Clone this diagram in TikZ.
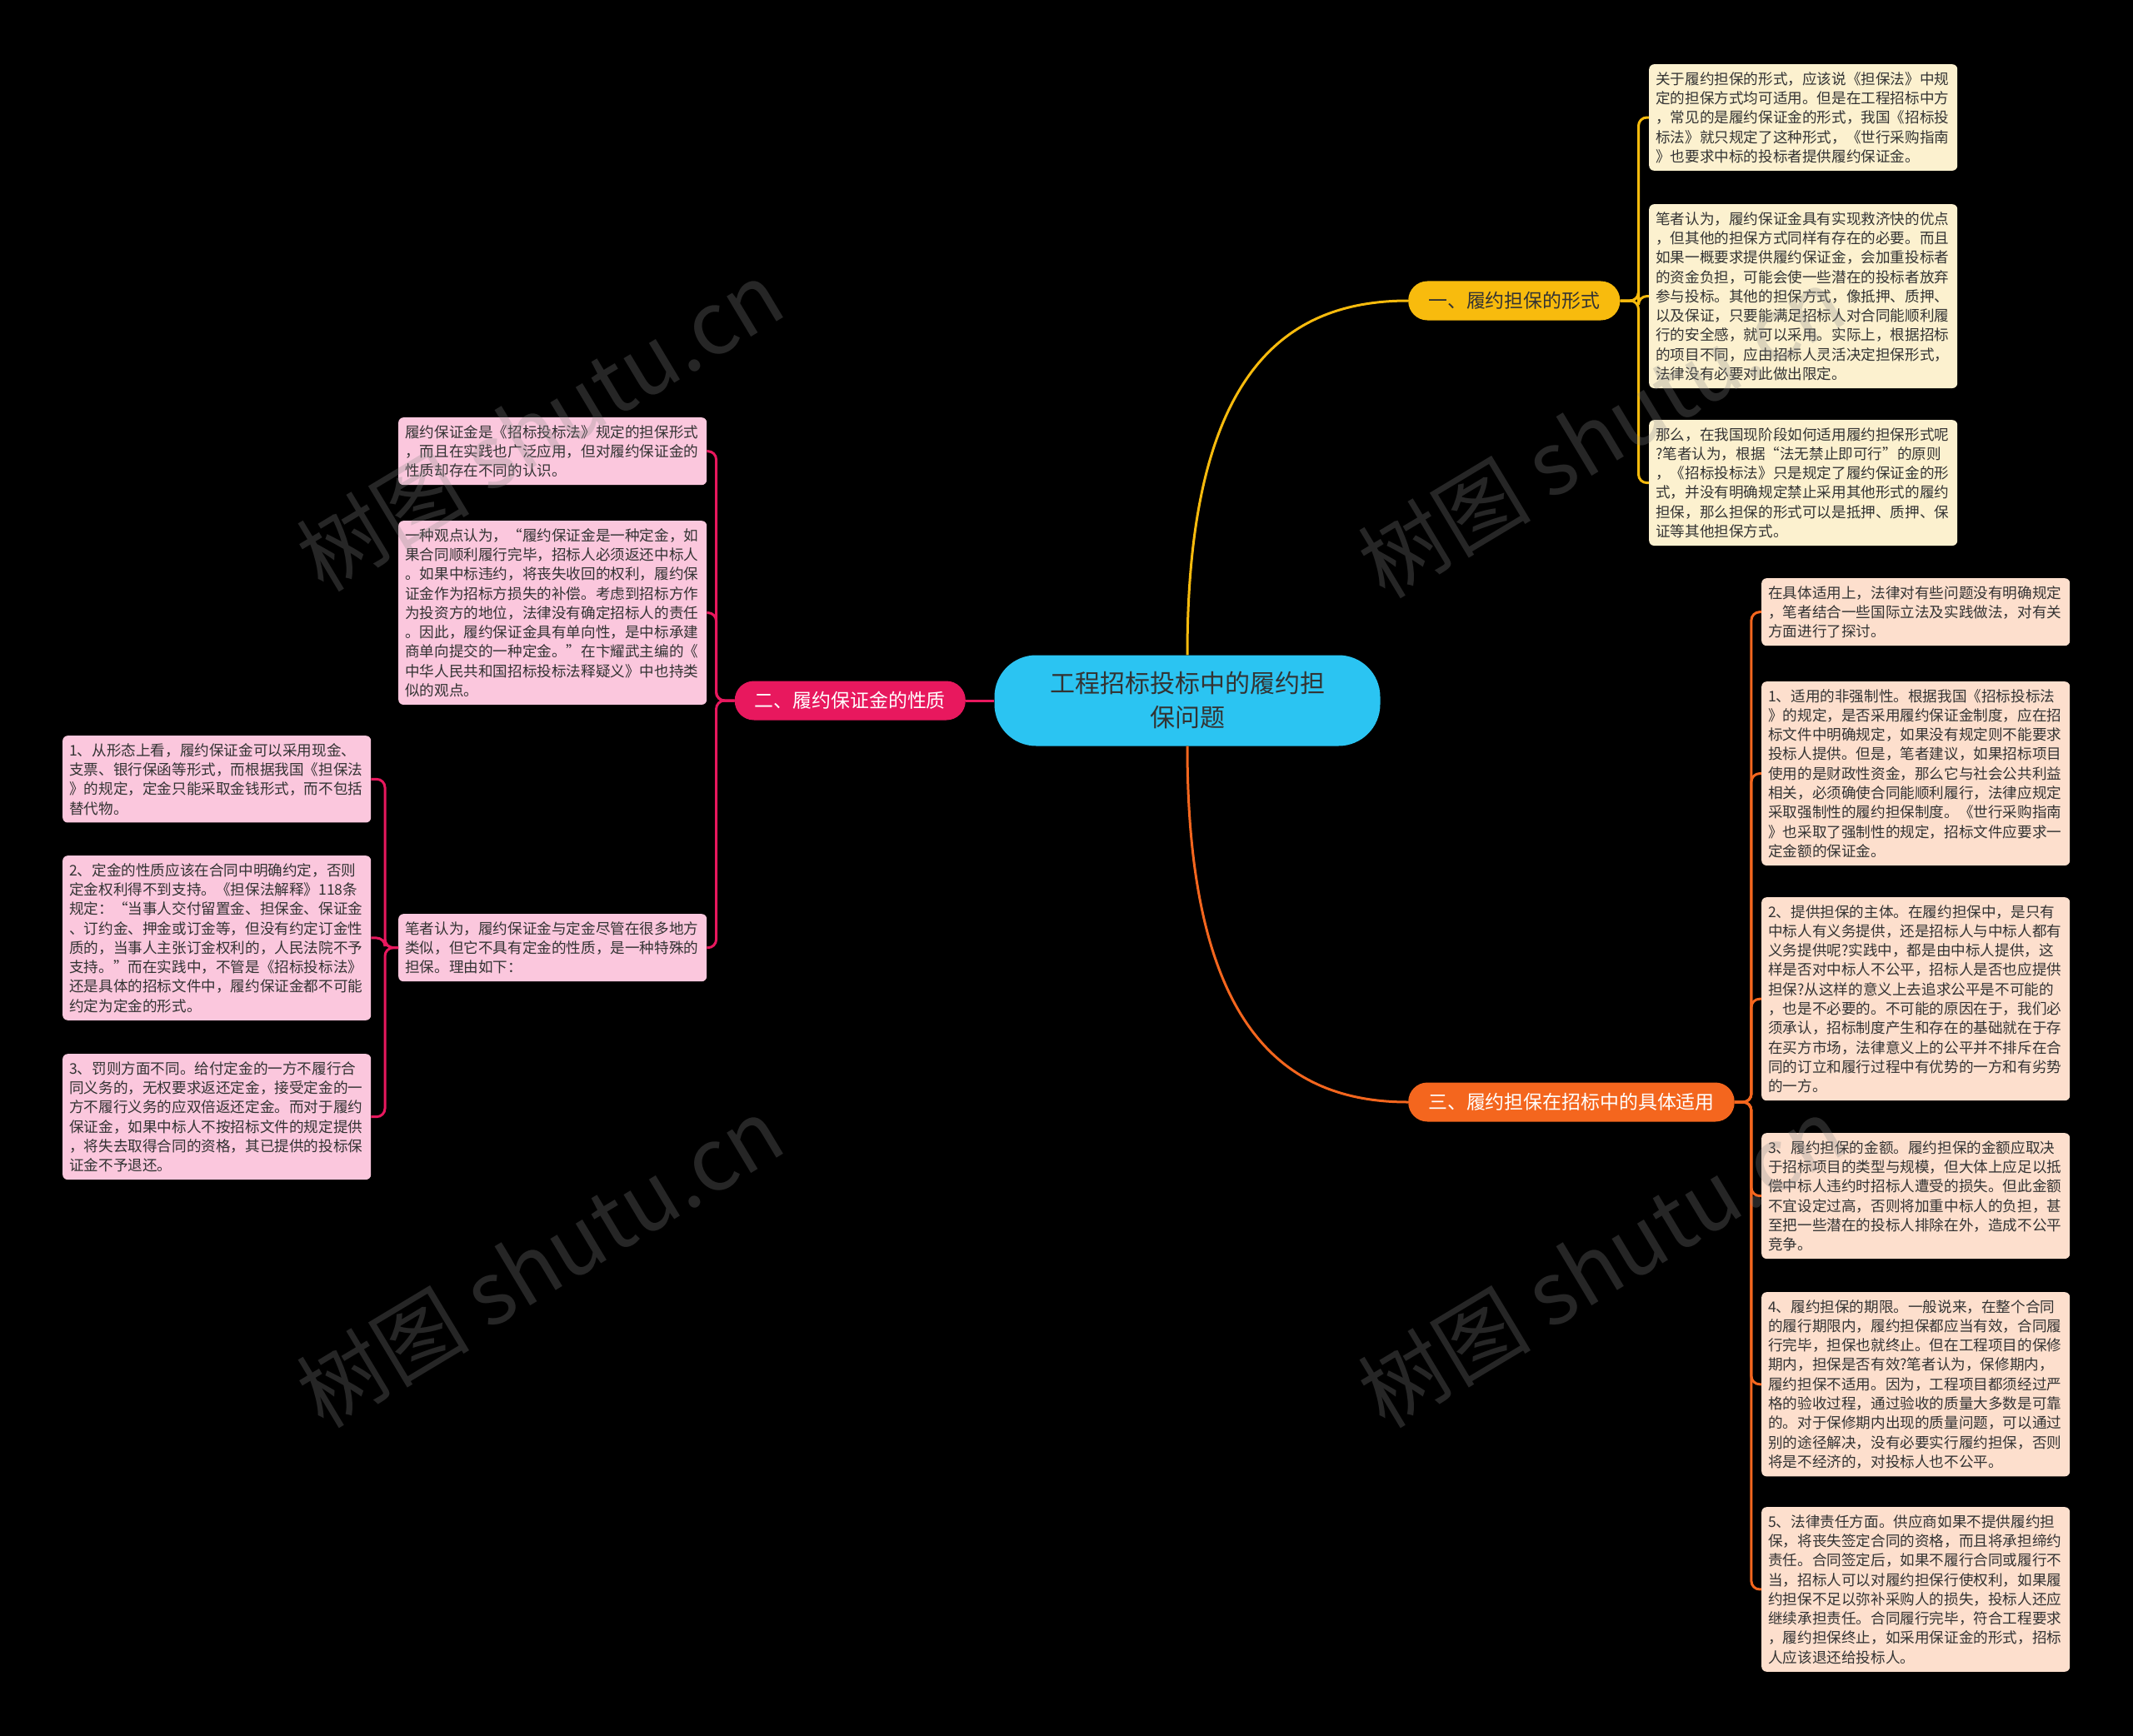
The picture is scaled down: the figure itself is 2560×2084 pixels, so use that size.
\documentclass[tikz,border=0pt]{standalone}
\usepackage{fontspec}
\setmainfont{Noto Sans CJK SC}
\usepackage{xcolor}
\definecolor{hubc}{HTML}{2BC4F2}
\definecolor{ylw}{HTML}{F8BB0D}
\definecolor{mag}{HTML}{E8185E}
\definecolor{org}{HTML}{F4661E}
\definecolor{ylwbox}{HTML}{FCF1CF}
\definecolor{magbox}{HTML}{FBC7DD}
\definecolor{orgbox}{HTML}{FDDFCD}
\definecolor{ink}{HTML}{333333}
\definecolor{wm}{HTML}{8A8A8A}
\tikzset{
  hub/.style={fill=hubc, rounded corners=50pt, minimum width=463pt, minimum height=109pt,
    align=center, text=ink, font=\fontsize{30}{41}\selectfont},
  topic/.style={rounded corners=23pt, minimum height=47pt, inner xsep=24pt,
    font=\fontsize{22.9}{28}\selectfont},
  leaf/.style={rounded corners=6pt, text width=354pt, align=left, inner xsep=8pt, inner ysep=9pt,
    anchor=north west, text=ink, font=\fontsize{17.6}{23.3}\selectfont},
  ylwleaf/.style={leaf, fill=ylwbox},
  magleaf/.style={leaf, fill=magbox},
  orgleaf/.style={leaf, fill=orgbox},
  wire/.style={line width=3pt, rounded corners=10pt},
  trunk/.style={line width=3pt},
  wmark/.style={text=wm, opacity=0.28, rotate=31, font=\fontsize{104}{106}\selectfont},
}
\begin{document}
\begin{tikzpicture}[x=1pt,y=-1pt]
  \fill[black] (0,0) rectangle (2560,2084);
  % centre and main topics
  \node[hub] (hub) at (1425,841) {工程招标投标中的履约担\\保问题};
  \node[topic, fill=ylw, text=ink, anchor=west] (t1) at (1690,361) {一、履约担保的形式};
  \node[topic, fill=mag, text=white, anchor=east] (t2) at (1159,841) {二、履约保证金的性质};
  \node[topic, fill=org, text=white, anchor=west] (t3) at (1690,1323) {三、履约担保在招标中的具体适用};
  % topic 1
  \node[ylwleaf] (y1) at (1979,77) {关于履约担保的形式，应该说《担保法》中规\\定的担保方式均可适用。但是在工程招标中方\\，常见的是履约保证金的形式，我国《招标投\\标法》就只规定了这种形式，《世行采购指南\\》也要求中标的投标者提供履约保证金。};
  \node[ylwleaf] (y2) at (1979,245) {笔者认为，履约保证金具有实现救济快的优点\\，但其他的担保方式同样有存在的必要。而且\\如果一概要求提供履约保证金，会加重投标者\\的资金负担，可能会使一些潜在的投标者放弃\\参与投标。其他的担保方式，像抵押、质押、\\以及保证，只要能满足招标人对合同能顺利履\\行的安全感，就可以采用。实际上，根据招标\\的项目不同，应由招标人灵活决定担保形式，\\法律没有必要对此做出限定。};
  \node[ylwleaf] (y3) at (1979,504) {那么，在我国现阶段如何适用履约担保形式呢\\?笔者认为，根据“法无禁止即可行”的原则\\，《招标投标法》只是规定了履约保证金的形\\式，并没有明确规定禁止采用其他形式的履约\\担保，那么担保的形式可以是抵押、质押、保\\证等其他担保方式。};
  % topic 3
  \node[orgleaf] (o1) at (2114,694) {在具体适用上，法律对有些问题没有明确规定\\，笔者结合一些国际立法及实践做法，对有关\\方面进行了探讨。};
  \node[orgleaf] (o2) at (2114,818) {1、适用的非强制性。根据我国《招标投标法\\》的规定，是否采用履约保证金制度，应在招\\标文件中明确规定，如果没有规定则不能要求\\投标人提供。但是，笔者建议，如果招标项目\\使用的是财政性资金，那么它与社会公共利益\\相关，必须确使合同能顺利履行，法律应规定\\采取强制性的履约担保制度。《世行采购指南\\》也采取了强制性的规定，招标文件应要求一\\定金额的保证金。};
  \node[orgleaf] (o3) at (2114,1077) {2、提供担保的主体。在履约担保中，是只有\\中标人有义务提供，还是招标人与中标人都有\\义务提供呢?实践中，都是由中标人提供，这\\样是否对中标人不公平，招标人是否也应提供\\担保?从这样的意义上去追求公平是不可能的\\，也是不必要的。不可能的原因在于，我们必\\须承认，招标制度产生和存在的基础就在于存\\在买方市场，法律意义上的公平并不排斥在合\\同的订立和履行过程中有优势的一方和有劣势\\的一方。};
  \node[orgleaf] (o4) at (2114,1360) {3、履约担保的金额。履约担保的金额应取决\\于招标项目的类型与规模，但大体上应足以抵\\偿中标人违约时招标人遭受的损失。但此金额\\不宜设定过高，否则将加重中标人的负担，甚\\至把一些潜在的投标人排除在外，造成不公平\\竞争。};
  \node[orgleaf] (o5) at (2114,1551) {4、履约担保的期限。一般说来，在整个合同\\的履行期限内，履约担保都应当有效，合同履\\行完毕，担保也就终止。但在工程项目的保修\\期内，担保是否有效?笔者认为，保修期内，\\履约担保不适用。因为，工程项目都须经过严\\格的验收过程，通过验收的质量大多数是可靠\\的。对于保修期内出现的质量问题，可以通过\\别的途径解决，没有必要实行履约担保，否则\\将是不经济的，对投标人也不公平。};
  \node[orgleaf] (o6) at (2114,1809) {5、法律责任方面。供应商如果不提供履约担\\保，将丧失签定合同的资格，而且将承担缔约\\责任。合同签定后，如果不履行合同或履行不\\当，招标人可以对履约担保行使权利，如果履\\约担保不足以弥补采购人的损失，投标人还应\\继续承担责任。合同履行完毕，符合工程要求\\，履约担保终止，如采用保证金的形式，招标\\人应该退还给投标人。};
  % topic 2
  \node[magleaf] (m1) at (478,501) {履约保证金是《招标投标法》规定的担保形式\\，而且在实践也广泛应用，但对履约保证金的\\性质却存在不同的认识。};
  \node[magleaf] (m2) at (478,625) {一种观点认为，“履约保证金是一种定金，如\\果合同顺利履行完毕，招标人必须返还中标人\\。如果中标违约，将丧失收回的权利，履约保\\证金作为招标方损失的补偿。考虑到招标方作\\为投资方的地位，法律没有确定招标人的责任\\。因此，履约保证金具有单向性，是中标承建\\商单向提交的一种定金。”在卞耀武主编的《\\中华人民共和国招标投标法释疑义》中也持类\\似的观点。};
  \node[magleaf] (m3) at (478,1097) {笔者认为，履约保证金与定金尽管在很多地方\\类似，但它不具有定金的性质，是一种特殊的\\担保。理由如下：};
  \node[magleaf] (r1) at (75,883) {1、从形态上看，履约保证金可以采用现金、\\支票、银行保函等形式，而根据我国《担保法\\》的规定，定金只能采取金钱形式，而不包括\\替代物。};
  \node[magleaf] (r2) at (75,1027) {2、定金的性质应该在合同中明确约定，否则\\定金权利得不到支持。《担保法解释》118条\\规定：“当事人交付留置金、担保金、保证金\\、订约金、押金或订金等，但没有约定订金性\\质的，当事人主张订金权利的，人民法院不予\\支持。”而在实践中，不管是《招标投标法》\\还是具体的招标文件中，履约保证金都不可能\\约定为定金的形式。};
  \node[magleaf] (r3) at (75,1265) {3、罚则方面不同。给付定金的一方不履行合\\同义务的，无权要求返还定金，接受定金的一\\方不履行义务的应双倍返还定金。而对于履约\\保证金，如果中标人不按招标文件的规定提供\\，将失去取得合同的资格，其已提供的投标保\\证金不予退还。};
  % connectors
  \draw[trunk, ylw] (hub.north) .. controls (1425,450) and (1540,361) .. (t1.west);
  \draw[trunk, org] (hub.south) .. controls (1425,1232) and (1540,1323) .. (t3.west);
  \draw[trunk, mag] (hub.west) -- (t2.east);
  \foreach \b in {y1,y2,y3}
    \draw[wire, ylw] (t1.east) -- ++(22,0) |- (\b.west);
  \foreach \b in {o1,o2,o3,o4,o5,o6}
    \draw[wire, org] (t3.east) -- ++(20,0) |- (\b.west);
  \foreach \b in {m1,m2,m3}
    \draw[wire, mag] (t2.west) -- ++(-22,0) |- (\b.east);
  \foreach \b in {r1,r2,r3}
    \draw[wire, mag] (m3.west) -- ++(-16,0) |- (\b.east);
  % watermarks
  \foreach \x/\y [count=\i] in {648/511, 1922/519, 648/1515, 1922/1515}
    \node[wmark] (wm\i) at (\x,\y) {树图 shutu.cn};
\end{tikzpicture}
\end{document}
